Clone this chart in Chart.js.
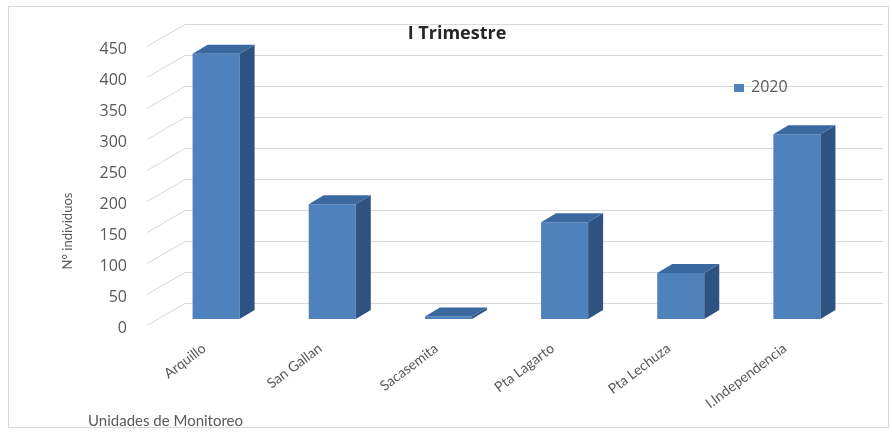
<!DOCTYPE html>
<html><head><meta charset="utf-8">
<script src="https://cdn.jsdelivr.net/npm/chart.js@4"></script>
<style>html,body{margin:0;padding:0;background:#fff}#wrap{width:892px;height:432px}</style>
</head><body><div id="wrap"><canvas id="c" width="892" height="432"></canvas></div>
<script>
const categories = ['Arquillo', 'San Gallan', 'Sacasemita', 'Pta Lagarto', 'Pta Lechuza', 'I.Independencia'];
const seriesName = '2020';
const values2020 = [428, 185, 4, 156, 74, 298];
const yTicks = [0, 50, 100, 150, 200, 250, 300, 350, 400, 450];
const chartTitle = 'I Trimestre';
const yTitle = 'N° individuos';
const xTitle = 'Unidades de Monitoreo';

const FONT = "'Open Sans', 'DejaVu Sans', sans-serif";
const LFONT = "Lato, 'Open Sans', sans-serif";
const TXT = '#595959';
const GRID = '#d9d9d9';
const FRONT = '#4f81bd', SIDE = '#2e5282', TOP = '#3c68a0';
const DEPTH_X = 15, DEPTH_Y = -9;      // bar depth
const WALL_X = 39, WALL_Y = -25;       // back wall offset from tick anchor
const BAR_DX = 12, BAR_DY = -9;        // bars sit behind the front plane

const backdrop = {
  id: 'backdrop',
  beforeDraw(chart) {
    const {ctx, chartArea: a, scales: {y}} = chart;
    ctx.save();
    ctx.fillStyle = '#fff';
    ctx.fillRect(0, 0, chart.width, chart.height);
    ctx.strokeStyle = GRID;
    ctx.lineWidth = 1;
    ctx.strokeRect(8.5, 6.5, 880, 421);
    yTicks.forEach(v => {
      const py = Math.round(y.getPixelForValue(v)) + 0.5;
      ctx.beginPath();
      ctx.moveTo(a.left + 1, py - 3);
      ctx.lineTo(a.left + WALL_X, py + WALL_Y);
      ctx.lineTo(a.right + 40, py + WALL_Y);
      ctx.stroke();
    });
    ctx.restore();
  }
};

const bar3d = {
  id: 'bar3d',
  beforeDatasetsDraw(chart) {
    chart.ctx.save();
    chart.ctx.translate(BAR_DX, BAR_DY);
  },
  afterDatasetsDraw(chart) {
    const ctx = chart.ctx;
    chart.getDatasetMeta(0).data.forEach(el => {
      const {x, y, base, width} = el.getProps(['x', 'y', 'base', 'width'], true);
      const l = x - width / 2, r = x + width / 2;
      ctx.fillStyle = SIDE;
      ctx.beginPath();
      ctx.moveTo(r, y); ctx.lineTo(r + DEPTH_X, y + DEPTH_Y);
      ctx.lineTo(r + DEPTH_X, base + DEPTH_Y); ctx.lineTo(r, base);
      ctx.closePath(); ctx.fill();
      ctx.fillStyle = TOP;
      ctx.beginPath();
      ctx.moveTo(l, y); ctx.lineTo(l + DEPTH_X, y + DEPTH_Y);
      ctx.lineTo(r + DEPTH_X, y + DEPTH_Y); ctx.lineTo(r, y);
      ctx.closePath(); ctx.fill();
    });
    ctx.restore();
  }
};

const overlay = {
  id: 'overlay',
  afterDraw(chart) {
    const ctx = chart.ctx;
    ctx.save();
    ctx.textBaseline = 'middle';
    ctx.fillStyle = '#262626';
    ctx.font = "bold 18px " + FONT;
    ctx.textAlign = 'center';
    ctx.fillText(chartTitle, 457, 34);
    ctx.fillStyle = FRONT;
    ctx.fillRect(734, 84, 10, 8);
    ctx.fillStyle = TXT;
    ctx.font = "16px " + FONT;
    ctx.textAlign = 'left';
    ctx.fillText(chart.data.datasets[0].label, 751, 87);
    ctx.font = "15px " + LFONT;
    ctx.fillText(xTitle, 88, 421);
    ctx.translate(68, 231);
    ctx.rotate(-Math.PI / 2);
    ctx.textAlign = 'center';
    ctx.font = "13px " + LFONT;
    ctx.fillText(yTitle, 0, 0);
    ctx.restore();
  }
};

new Chart(document.getElementById('c'), {
  type: 'bar',
  data: {
    labels: categories,
    datasets: [{
      label: seriesName,
      data: values2020,
      backgroundColor: FRONT,
      borderWidth: 0,
      categoryPercentage: 1,
      barPercentage: 0.405
    }]
  },
  options: {
    responsive: false,
    animation: false,
    devicePixelRatio: 1,
    layout: {padding: {left: 55, right: 49, top: 49, bottom: 0}},
    plugins: {legend: {display: false}, title: {display: false}, tooltip: {enabled: false}},
    scales: {
      x: {
        grid: {display: false, drawTicks: false},
        border: {display: false},
        ticks: {minRotation: 37, maxRotation: 37, autoSkip: false, color: TXT, font: {family: LFONT, size: 14}, padding: 12},
        afterFit(s) { s.height = 104; }
      },
      y: {
        min: 0, max: 450,
        afterBuildTicks(s) { s.ticks = yTicks.map(v => ({value: v})); },
        grid: {display: false, drawTicks: false},
        border: {display: false},
        ticks: {color: TXT, font: {family: FONT, size: 16}, padding: 19},
        title: {display: false},
        afterFit(s) { s.width = 91; }
      }
    }
  },
  plugins: [backdrop, bar3d, overlay]
});
</script>
</body></html>
